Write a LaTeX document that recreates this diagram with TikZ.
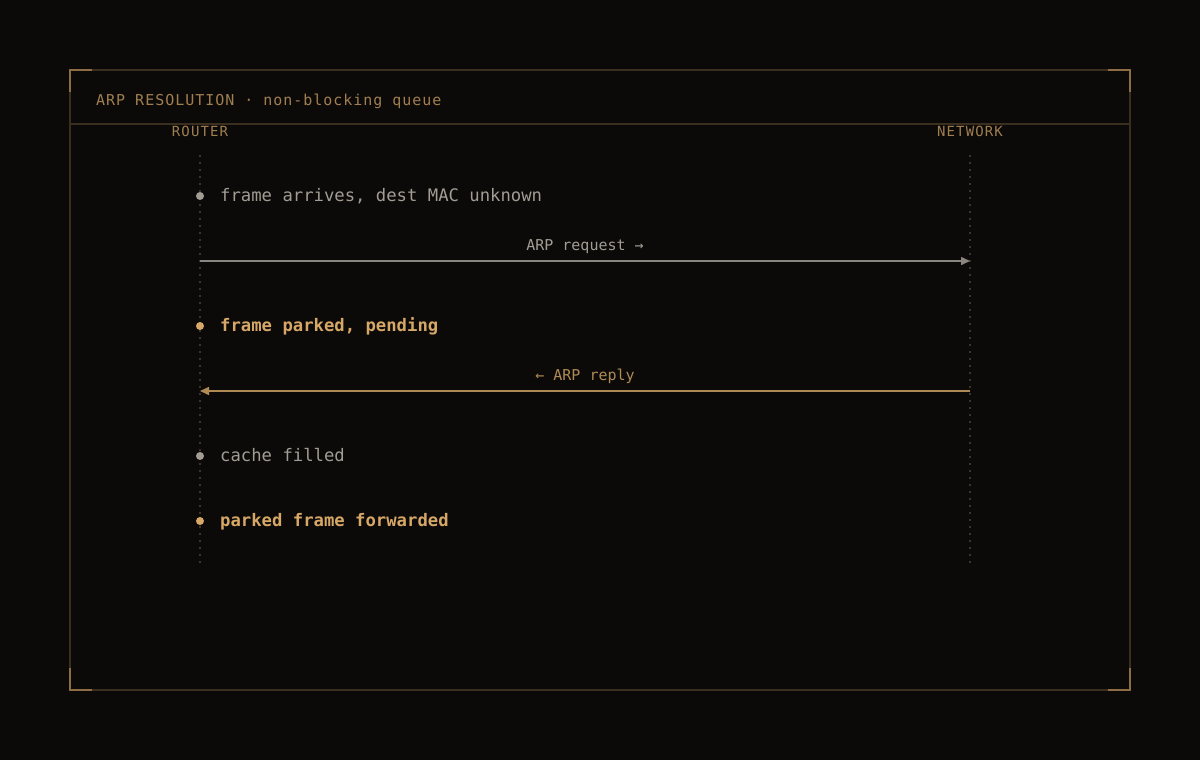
\documentclass[tikz,border=0pt]{standalone}
\usepackage{fontspec}
\setmonofont{DejaVu Sans Mono}
\newfontfamily\titlefont[LetterSpace=6.5]{DejaVu Sans Mono}
\newfontfamily\lanefont[LetterSpace=8]{DejaVu Sans Mono}
\usetikzlibrary{arrows.meta}

\begin{document}
\begin{tikzpicture}[x=1pt,y=-1pt,
  evdot/.style={circle,inner sep=0,minimum size=8},
  evtext/.style={anchor=base west,inner sep=0,text=fog,font=\ttfamily\fontsize{17.25}{20}\selectfont},
  evbold/.style={evtext,text=amber,font=\ttfamily\bfseries\fontsize{17.25}{20}\selectfont},
  lanelabel/.style={anchor=base,inner sep=0,text=bronze,font=\lanefont\fontsize{14}{16}\selectfont},
  msglabel/.style={anchor=base,inner sep=0,font=\ttfamily\fontsize{15}{18}\selectfont},
  lifeline/.style={draw=dust,line width=1.5,dash pattern=on 1.5 off 5.5},
  msgline/.style={line width=1.5,-{Triangle[length=9,width=8]}}]
\definecolor{ink}{HTML}{0B0A09}
\definecolor{rim}{HTML}{3A2E1F}
\definecolor{corner}{HTML}{8C6D44}
\definecolor{bronze}{HTML}{A07E50}
\definecolor{dust}{HTML}{3C3329}
\definecolor{fog}{HTML}{A29C93}
\definecolor{stone}{HTML}{8A857E}
\definecolor{amber}{HTML}{D6A766}
\definecolor{brass}{HTML}{B08A55}
\fill[ink] (0,0) rectangle (1200,760);
\useasboundingbox (0,0) rectangle (1200,760);
% frame and header
\draw[rim,line width=1.5] (70,70) rectangle (1130,690);
\draw[rim,line width=1.5] (70,124) -- (1130,124);
\draw[corner,line width=1.5] (70,92) -- (70,70) -- (92,70);
\draw[corner,line width=1.5] (1108,70) -- (1130,70) -- (1130,92);
\draw[corner,line width=1.5] (70,668) -- (70,690) -- (92,690);
\draw[corner,line width=1.5] (1108,690) -- (1130,690) -- (1130,668);
\node[anchor=base west,inner sep=0,text=bronze,font=\titlefont\fontsize{15}{18}\selectfont] (title) at (96,105.5) {ARP RESOLUTION · non-blocking queue};
% lanes
\node[lanelabel] (router) at (200,136) {ROUTER};
\node[lanelabel] (network) at (970,136) {NETWORK};
\coordinate (rtop) at (200,155);
\coordinate (rbot) at (200,565);
\coordinate (ntop) at (970,155);
\coordinate (nbot) at (970,565);
\draw[lifeline] (rtop) -- (rbot);
\draw[lifeline] (ntop) -- (nbot);
% events on the router lane
\foreach \nm/\crlr/\ypos in {e1/fog/196,e2/amber/326,e3/fog/456,e4/amber/521}
  {  \node[evdot,fill=\crlr] (\nm) at (200,\ypos) {};}
\node[evtext] (t1) at (220,201.5) {frame arrives, dest MAC unknown};
\node[evbold] (t2) at (220,331.5) {frame parked, pending};
\node[evtext] (t3) at (220,461.5) {cache filled};
\node[evbold] (t4) at (220,526.5) {parked frame forwarded};
% messages
\coordinate (reqa) at (200,261);
\coordinate (reqb) at (970,261);
\coordinate (repa) at (970,391);
\coordinate (repb) at (200,391);
\draw[msgline,stone] (reqa) -- (reqb);
\draw[msgline,brass] (repa) -- (repb);
\node[msglabel,text=fog] (reql) at (585,250.5) {ARP request →};
\node[msglabel,text=brass] (repl) at (585,380.5) {← ARP reply};
\end{tikzpicture}
\end{document}
